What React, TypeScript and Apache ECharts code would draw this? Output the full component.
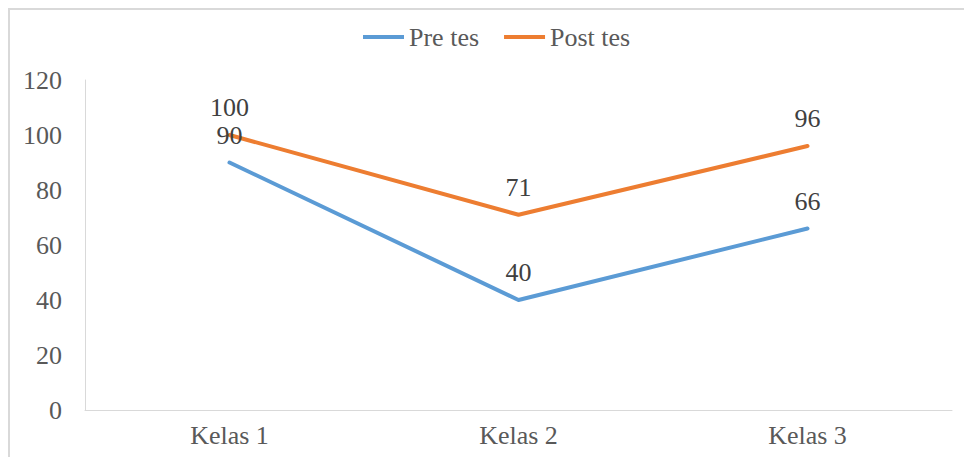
import React, { useEffect, useRef } from "react";
import * as echarts from "echarts";

const categories = ["Kelas 1", "Kelas 2", "Kelas 3"];
const preTes = [90, 40, 66];
const postTes = [100, 71, 96];
const seriesNames = ["Pre tes", "Post tes"];

const FONT = "Liberation Serif";

export default function App() {
  const ref = useRef<HTMLDivElement>(null);
  useEffect(() => {
    if (!ref.current) return;
    const chart = echarts.init(ref.current, undefined, { renderer: "svg" });
    const labelStyle = {
      show: true,
      position: "top" as const,
      distance: 14,
      color: "#404040",
      fontSize: 26,
      fontFamily: FONT,
    };
    chart.setOption({
      animation: false,
      backgroundColor: "#ffffff",
      textStyle: { fontFamily: FONT },
      graphic: [
        {
          type: "rect",
          shape: { x: 9, y: 9, width: 1200, height: 1200 },
          style: { fill: "none", stroke: "#d9d9d9", lineWidth: 2 },
          silent: true,
        },
      ],
      legend: {
        left: 363,
        top: 24,
        padding: 0,
        itemWidth: 41,
        itemHeight: 4,
        itemGap: 25,
        icon: "rect",
        textStyle: { color: "#595959", fontSize: 26, fontFamily: FONT },
        data: seriesNames,
      },
      grid: { left: 85, right: 12, top: 80, bottom: 47 },
      xAxis: {
        type: "category",
        data: categories,
        boundaryGap: true,
        axisLine: { show: true, lineStyle: { color: "#d9d9d9", width: 1 } },
        axisTick: { show: false },
        axisLabel: { color: "#595959", fontSize: 26, fontFamily: FONT, margin: 12 },
      },
      yAxis: {
        type: "value",
        min: 0,
        max: 120,
        interval: 20,
        axisLine: { show: true, lineStyle: { color: "#d9d9d9", width: 1 } },
        axisTick: { show: false },
        splitLine: { show: false },
        axisLabel: { color: "#595959", fontSize: 26, fontFamily: FONT, margin: 23 },
      },
      series: [
        {
          name: seriesNames[0],
          type: "line",
          data: preTes,
          symbol: "circle",
          symbolSize: 1,
          lineStyle: { color: "#5b9bd5", width: 4, join: "round", cap: "round" },
          itemStyle: { color: "#5b9bd5" },
          label: labelStyle,
          z: 2,
        },
        {
          name: seriesNames[1],
          type: "line",
          data: postTes,
          symbol: "circle",
          symbolSize: 1,
          lineStyle: { color: "#ed7d31", width: 4, join: "round", cap: "round" },
          itemStyle: { color: "#ed7d31" },
          label: labelStyle,
          z: 2,
        },
      ],
    });
    return () => chart.dispose();
  }, []);
  return (
    <div
      ref={ref}
      style={{ position: "absolute", left: 0, top: 0, width: 964, height: 457 }}
    />
  );
}
